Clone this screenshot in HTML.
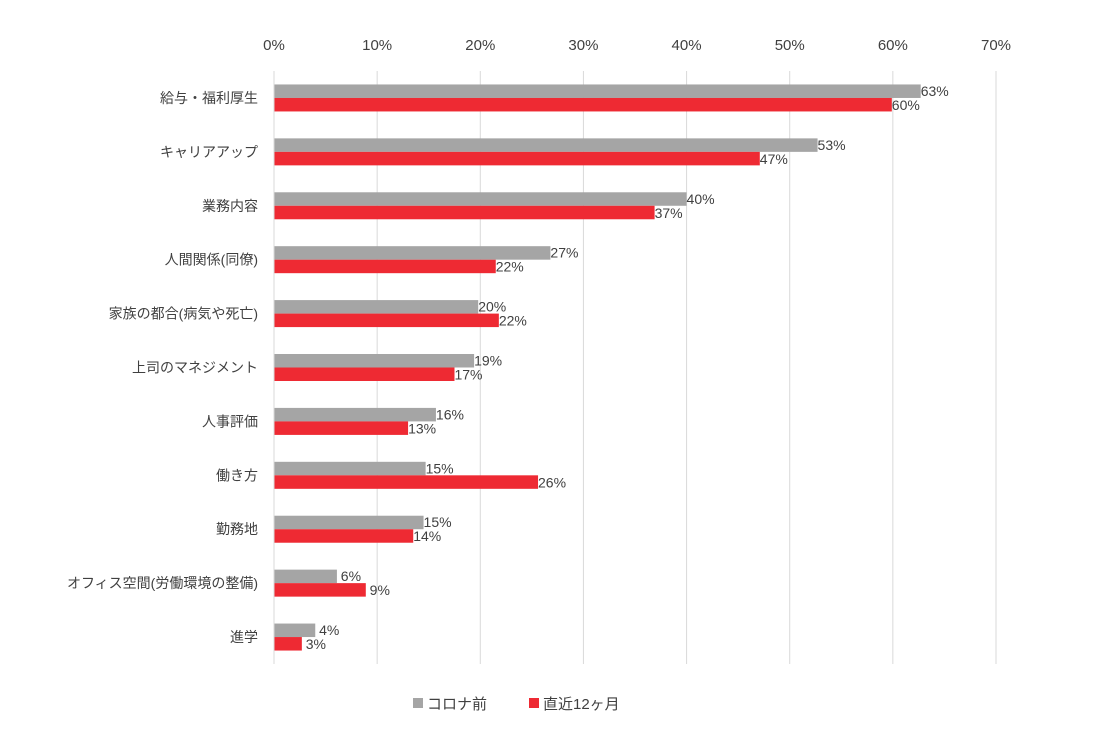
<!DOCTYPE html>
<html><head><meta charset="utf-8"><style>
body{margin:0;background:#fff;}
svg text{font-family:"Liberation Sans","Noto Sans CJK JP",sans-serif;fill:#404040;}
</style></head><body>
<svg id="chart" width="1113" height="745" xmlns="http://www.w3.org/2000/svg"></svg>
<script>
const categories=["給与・福利厚生","キャリアアップ","業務内容","人間関係(同僚)","家族の都合(病気や死亡)","上司のマネジメント","人事評価","働き方","勤務地","オフィス空間(労働環境の整備)","進学"];
const seriesBefore=[62.7,52.7,40.0,26.8,19.8,19.4,15.7,14.7,14.5,6.1,4.0];
const seriesRecent=[59.9,47.1,36.9,21.5,21.8,17.5,13.0,25.6,13.5,8.9,2.7];
const labelsBefore=["63%","53%","40%","27%","20%","19%","16%","15%","15%","6%","4%"];
const labelsRecent=["60%","47%","37%","22%","22%","17%","13%","26%","14%","9%","3%"];
const tickValues=[0,10,20,30,40,50,60,70];
const seriesNames=["コロナ前","直近12ヶ月"];

const svg=document.getElementById('chart');
const NS="http://www.w3.org/2000/svg";
const x0=274,x1=996,maxV=70,plotTop=71,plotBottom=664;
const xs=v=>x0+(v/maxV)*(x1-x0);
const band=(plotBottom-plotTop)/categories.length;
function el(tag,attrs,text){const e=document.createElementNS(NS,tag);for(const k in attrs)e.setAttribute(k,attrs[k]);if(text!==undefined)e.textContent=text;svg.appendChild(e);return e;}

tickValues.forEach((t,i)=>{
  const g=el('line',{x1:xs(t),x2:xs(t),y1:plotTop,y2:plotBottom,stroke:'#d9d9d9','stroke-width':1});
  
  
  const tx=el('text',{x:xs(t),y:50,'text-anchor':'middle','font-size':15},t+'%');
  
  
});
categories.forEach((c,i)=>{
  const cy=plotTop+band*(i+0.5);
  const lb=el('text',{x:258,y:cy+5,'text-anchor':'end','font-size':14},c);
  
  
  const b1=el('rect',{x:x0,y:cy-13.5,width:xs(seriesBefore[i])-x0,height:13.5,fill:'#a5a5a5'});
  
  
  const b2=el('rect',{x:x0,y:cy,width:xs(seriesRecent[i])-x0,height:13.5,fill:'#ee2a33'});
  
  
  const t1=el('text',{x:xs(seriesBefore[i])+14,y:cy-2,'font-size':14,'text-anchor':'middle'},labelsBefore[i]);
  
  
  const t2=el('text',{x:xs(seriesRecent[i])+14,y:cy+12,'font-size':14,'text-anchor':'middle'},labelsRecent[i]);
  
  
});
const ax=el('line',{x1:x0,x2:x0,y1:plotTop,y2:plotBottom,stroke:'#d9d9d9','stroke-width':1});



const lg=[[413,'#a5a5a5'],[529,'#ee2a33']];
lg.forEach((l,i)=>{
  const r=el('rect',{x:l[0],y:698,width:10,height:10,fill:l[1]});
  
  
  const t=el('text',{x:l[0]+14,y:709,'font-size':15},seriesNames[i]);
  
  
});
</script>
</body></html>
